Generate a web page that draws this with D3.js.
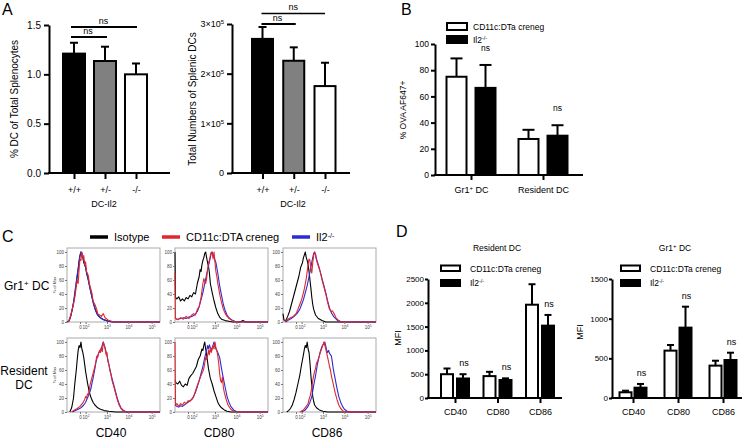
<!DOCTYPE html>
<html><head><meta charset="utf-8">
<script src="https://cdn.jsdelivr.net/npm/d3@7"></script>
<style>
body{margin:0;background:#fff}
svg{display:block;font-family:"Liberation Sans",Arial,Helvetica,sans-serif}
</style>
</head><body>
<svg id="c" width="742" height="439"></svg>
<script>
// ---------------- DATA ----------------
// Panel A
const aCategories = ["+/+", "+/-", "-/-"];
const aFills = ["#000000", "#808080", "#ffffff"];
const aPctMean = [1.21, 1.135, 1.0];
const aPctErr = [0.11, 0.145, 0.11];
const aCountMean = [270000, 226000, 175000];
const aCountErr = [24000, 27000, 47000];
const aPctTicks = [0, 0.5, 1.0, 1.5];
const aCountTicks = [0, 100000, 200000, 300000];
// Panel B
const bGroups = ["Gr1+ DC", "Resident DC"];
const bCre = [75, 27.5];
const bCreErr = [14, 7];
const bIl2 = [66.5, 30];
const bIl2Err = [17.5, 8];
const bTicks = [0, 20, 40, 60, 80, 100];
// Panel D
const dMarkers = ["CD40", "CD80", "CD86"];
const dResCre = [500, 460, 1960];
const dResCreErr = [120, 90, 430];
const dResIl2 = [410, 378, 1520];
const dResIl2Err = [90, 35, 225];
const dResTicks = [0, 500, 1000, 1500, 2000, 2500];
const dGrCre = [72, 597, 408];
const dGrCreErr = [20, 71, 62];
const dGrIl2 = [130, 887, 479];
const dGrIl2Err = [47, 264, 92];
const dGrTicks = [0, 500, 1000, 1500];
// Panel C histograms: [channel (display units 0-100), % of max]
const histXTickPos = [14, 20, 43, 66, 91];
const histXTickLab = ["0", "2", "3", "4", "5"];
const histYTicks = [0, 20, 40, 60, 80, 100];
const gr1CD40Iso = [[0,0],[2,1],[4,8],[6,20],[8,35],[10,55],[12,75],[13,88],[14,95],[15,100],[16,97],[17,92],[18,85],[20,78],[21,70],[23,60],[25,47],[27,35],[29,24],[31,16],[33,10],[36,6],[40,3],[45,1],[50,0],[100,0]];
const gr1CD40Cre = [[1,0],[3,5],[5,15],[7,25],[9,40],[10,52],[11,60],[12,55],[13,75],[14,90],[15,88],[16,100],[17,92],[18,95],[19,82],[20,86],[21,72],[23,66],[24,55],[26,45],[27,40],[28,30],[30,25],[32,18],[33,12],[35,10],[37,8],[39,12],[41,6],[44,3],[48,1],[52,0],[100,0]];
const gr1CD40Il2 = [[1,0],[3,4],[5,14],[7,28],[9,48],[11,68],[13,85],[14,95],[15,100],[16,98],[18,88],[20,78],[22,66],[24,52],[26,40],[28,28],[30,19],[32,12],[35,7],[38,4],[42,2],[48,0],[100,0]];
const gr1CD80Iso = [[0,100],[0.5,35],[2,33],[4,36],[6,30],[8,33],[10,30],[12,35],[14,33],[16,38],[18,36],[20,42],[22,40],[24,55],[26,65],[27,75],[28,72],[29,82],[30,88],[31,92],[32,98],[33,100],[34,92],[35,85],[36,80],[37,70],[38,55],[40,42],[42,30],[44,20],[46,12],[48,7],[50,4],[54,2],[58,1],[62,0],[70,0],[73,2],[76,0],[100,0]];
const gr1CD80Cre = [[0,70],[0.5,5],[3,3],[6,6],[9,4],[12,8],[15,5],[18,10],[20,12],[22,10],[24,18],[26,22],[28,35],[29,45],[30,55],[31,62],[32,58],[33,55],[34,62],[35,75],[36,85],[37,88],[38,95],[39,100],[40,98],[41,90],[42,100],[43,85],[44,72],[45,65],[46,55],[47,48],[48,40],[50,28],[52,18],[54,12],[56,8],[58,5],[62,2],[66,0],[100,0]];
const gr1CD80Il2 = [[0,5],[3,4],[6,5],[9,6],[12,5],[15,7],[18,8],[21,10],[24,15],[26,22],[28,32],[30,42],[32,55],[34,68],[36,80],[38,92],[39,98],[40,100],[41,95],[42,92],[44,85],[46,70],[48,52],[50,38],[52,25],[54,16],[56,10],[58,6],[62,2],[66,0],[100,0]];
const gr1CD86Iso = [[0,12],[1,3],[3,2],[5,8],[7,15],[9,25],[11,35],[13,45],[15,55],[17,65],[19,78],[21,85],[22,92],[23,96],[24,100],[25,92],[26,88],[27,82],[28,72],[29,60],[30,48],[31,35],[32,25],[33,18],[35,10],[38,5],[42,2],[46,0],[100,0]];
const gr1CD86Cre = [[2,0],[5,4],[8,6],[11,8],[14,12],[16,18],[18,25],[20,32],[22,42],[23,48],[24,55],[25,62],[26,72],[27,82],[28,90],[29,88],[30,75],[31,70],[32,85],[33,95],[34,100],[35,96],[36,88],[38,80],[40,72],[42,60],[44,50],[46,40],[48,28],[50,18],[52,15],[53,16],[55,12],[57,6],[60,2],[63,0],[100,0]];
const gr1CD86Il2 = [[3,0],[6,3],[9,5],[12,8],[15,12],[18,18],[20,25],[22,32],[24,42],[26,52],[28,65],[30,78],[31,86],[32,92],[33,98],[34,100],[35,97],[36,90],[38,82],[40,72],[42,62],[44,52],[46,42],[48,30],[50,20],[52,13],[55,7],[58,3],[62,0],[100,0]];
const resCD40Iso = [[3,0],[5,6],[7,20],[8,35],[9,48],[10,60],[11,75],[12,88],[13,95],[14,92],[15,100],[16,90],[17,85],[18,78],[19,68],[20,58],[21,50],[22,42],[23,35],[24,28],[26,20],[28,14],[30,10],[33,6],[36,4],[40,2],[45,1],[52,0],[100,0]];
const resCD40Cre = [[5,0],[8,3],[11,5],[14,8],[17,13],[19,18],[20,22],[21,20],[22,26],[23,24],[24,32],[25,40],[26,45],[27,50],[28,55],[29,60],[30,65],[31,72],[32,80],[33,78],[34,84],[35,88],[36,85],[37,92],[38,86],[39,100],[40,95],[41,90],[42,82],[43,85],[44,72],[45,68],[46,60],[47,55],[48,48],[49,42],[50,38],[52,28],[54,18],[56,10],[58,5],[61,1],[64,0],[100,0]];
const resCD40Il2 = [[6,0],[9,2],[12,4],[15,6],[18,10],[20,14],[22,20],[24,26],[26,35],[27,42],[28,48],[29,55],[30,62],[31,70],[32,76],[33,80],[34,84],[35,86],[36,88],[37,92],[38,96],[39,100],[40,96],[41,92],[42,86],[43,80],[44,74],[45,68],[46,62],[47,56],[48,50],[50,40],[52,30],[54,20],[56,12],[58,6],[61,2],[64,0],[100,0]];
const resCD80Iso = [[0,45],[1,42],[3,40],[5,44],[7,38],[9,36],[11,40],[13,38],[15,48],[17,52],[19,55],[21,60],[23,65],[25,75],[27,80],[28,85],[29,90],[30,88],[31,95],[32,100],[33,90],[34,82],[35,72],[36,62],[37,55],[38,48],[40,40],[42,30],[44,22],[46,14],[48,9],[50,6],[53,3],[56,1],[60,0],[100,0]];
const resCD80Cre = [[0,100],[0.6,10],[2,12],[4,8],[6,12],[8,10],[10,14],[12,12],[14,16],[16,15],[18,18],[20,22],[22,30],[24,38],[26,45],[28,52],[30,58],[31,62],[32,70],[33,78],[34,75],[35,80],[36,88],[37,82],[38,92],[39,85],[40,90],[41,95],[42,90],[43,100],[44,92],[45,88],[46,80],[47,70],[48,55],[49,45],[50,42],[51,50],[52,35],[53,28],[55,18],[57,10],[60,4],[63,1],[66,0],[100,0]];
const resCD80Il2 = [[0,10],[2,8],[4,7],[6,9],[8,8],[10,10],[12,12],[14,14],[16,16],[18,18],[20,22],[22,28],[24,36],[26,45],[28,55],[30,65],[32,78],[34,88],[35,95],[36,90],[37,96],[38,92],[39,88],[40,92],[41,96],[42,100],[43,95],[44,90],[46,85],[48,78],[50,62],[52,48],[54,35],[56,22],[58,14],[60,8],[63,3],[67,0],[100,0]];
const resCD86Iso = [[4,0],[6,2],[8,5],[10,10],[12,18],[14,28],[16,40],[18,52],[19,60],[20,68],[21,75],[22,82],[23,90],[24,95],[25,92],[26,100],[27,90],[28,85],[29,70],[30,52],[31,38],[32,22],[33,15],[34,10],[36,6],[39,3],[43,1],[48,0],[100,0]];
const resCD86Cre = [[18,0],[22,3],[25,8],[27,12],[28,18],[29,22],[30,28],[31,35],[32,45],[33,52],[34,58],[35,62],[36,70],[37,72],[38,76],[39,80],[40,85],[41,88],[42,92],[43,96],[44,100],[45,95],[46,90],[47,84],[48,78],[49,72],[50,65],[51,60],[52,52],[54,40],[56,28],[58,18],[60,10],[62,5],[65,1],[68,0],[100,0]];
const resCD86Il2 = [[20,0],[24,3],[27,8],[29,14],[30,18],[31,22],[32,30],[33,38],[34,45],[35,52],[36,60],[37,68],[38,74],[39,80],[40,86],[41,90],[42,94],[43,96],[44,98],[45,100],[46,94],[47,88],[48,85],[49,88],[50,84],[51,82],[52,80],[53,72],[54,62],[56,48],[58,34],[60,22],[62,14],[64,8],[66,4],[69,1],[72,0],[100,0]];

// ---------------- DRAW ----------------
const svg = d3.select("#c");
const RED = "#e3262b", BLUE = "#2b2bd6";

function panelLetter(t, x, y) {
  svg.append("text").attr("x", x).attr("y", y).attr("font-size", 16).text(t);
}

function styleAxis(g, fs, sw) {
  g.selectAll("text").attr("font-size", fs).attr("fill", "#000");
  g.selectAll("line").attr("stroke", "#000").attr("stroke-width", sw);
  g.select(".domain").attr("stroke", "#000").attr("stroke-width", sw);
}

function drawBars(g, y, items, sw, capW) {
  items.forEach(it => {
    g.append("rect").attr("x", it.cx - it.w / 2).attr("y", y(it.v))
      .attr("width", it.w).attr("height", y(0) - y(it.v))
      .attr("fill", it.fill).attr("stroke", "#000").attr("stroke-width", sw);
    g.append("line").attr("x1", it.cx).attr("x2", it.cx)
      .attr("y1", y(it.v)).attr("y2", y(it.v + it.e))
      .attr("stroke", "#000").attr("stroke-width", sw);
    g.append("line").attr("x1", it.cx - capW / 2).attr("x2", it.cx + capW / 2)
      .attr("y1", y(it.v + it.e)).attr("y2", y(it.v + it.e))
      .attr("stroke", "#000").attr("stroke-width", sw);
  });
}

function xAxisLine(g, x1, x2, yv, sw) {
  g.append("line").attr("x1", x1).attr("x2", x2).attr("y1", yv).attr("y2", yv)
    .attr("stroke", "#000").attr("stroke-width", sw);
}

function ns(g, x, y, fs) {
  g.append("text").attr("x", x).attr("y", y).attr("text-anchor", "middle")
    .attr("font-size", fs).text("ns");
}

function supLabel(sel, base, sup, fs) {
  sel.text(null);
  sel.append("tspan").text(base);
  sel.append("tspan").attr("baseline-shift", "super").attr("font-size", fs).text(sup);
}

// ===== Panel A =====
panelLetter("A", 2, 15);
{
  const g = svg.append("g");
  const x = d3.scalePoint().domain(aCategories).range([74, 136]);
  const y = d3.scaleLinear().domain([0, 1.5]).range([173, 25]);
  const ya = g.append("g").attr("transform", "translate(49,0)")
    .call(d3.axisLeft(y).tickValues(aPctTicks).tickFormat(d3.format(".1f")).tickSize(5).tickSizeOuter(0).tickPadding(3));
  styleAxis(ya, 10, 2);
  drawBars(g, y, aCategories.map((c, i) => ({cx: x(c), w: 22, v: aPctMean[i], e: aPctErr[i], fill: aFills[i]})), 2, 8);
  xAxisLine(g, 48, 170, y(0), 2);
  const xa = g.append("g").attr("transform", `translate(0,${y(0)})`)
    .call(d3.axisBottom(x).tickSize(6).tickSizeOuter(0).tickPadding(8));
  xa.select(".domain").remove();
  styleAxis(xa, 9, 2);
  g.append("text").attr("x", 104).attr("y", 207).attr("text-anchor", "middle").attr("font-size", 9).text("DC-Il2");
  g.append("text").attr("transform", "translate(18,99) rotate(-90)").attr("text-anchor", "middle")
    .attr("font-size", 10).text("% DC of Total Splenocytes");
  const xs = x(aCategories[0]) - 3;
  g.append("line").attr("x1", xs).attr("x2", x(aCategories[2]) + 1).attr("y1", 27).attr("y2", 27).attr("stroke", "#000").attr("stroke-width", 2);
  ns(g, (xs + x(aCategories[2])) / 2, 24, 9);
  g.append("line").attr("x1", xs).attr("x2", x(aCategories[1]) + 2).attr("y1", 37).attr("y2", 37).attr("stroke", "#000").attr("stroke-width", 2);
  ns(g, (xs + x(aCategories[1])) / 2, 34, 9);
}
{
  const g = svg.append("g");
  const x = d3.scalePoint().domain(aCategories).range([262.5, 325]);
  const y = d3.scaleLinear().domain([0, 300000]).range([173, 24]);
  const ya = g.append("g").attr("transform", "translate(232,0)")
    .call(d3.axisLeft(y).tickValues(aCountTicks).tickSize(5).tickSizeOuter(0).tickPadding(3));
  styleAxis(ya, 9, 2);
  ya.selectAll(".tick text").each(function (d) {
    const t = d3.select(this);
    if (d === 0) t.text("0"); else supLabel(t, (d / 1e5) + "×10", "5", 6);
  });
  drawBars(g, y, aCategories.map((c, i) => ({cx: x(c), w: 21, v: aCountMean[i], e: aCountErr[i], fill: aFills[i]})), 2, 8);
  xAxisLine(g, 231, 350, y(0), 2);
  const xa = g.append("g").attr("transform", `translate(0,${y(0)})`)
    .call(d3.axisBottom(x).tickSize(6).tickSizeOuter(0).tickPadding(8));
  xa.select(".domain").remove();
  styleAxis(xa, 9, 2);
  g.append("text").attr("x", 293).attr("y", 207).attr("text-anchor", "middle").attr("font-size", 9).text("DC-Il2");
  g.append("text").attr("transform", "translate(196,99) rotate(-90)").attr("text-anchor", "middle")
    .attr("font-size", 10).text("Total Numbers of Splenic DCs");
  const xs = x(aCategories[0]) - 1;
  g.append("line").attr("x1", xs).attr("x2", x(aCategories[2])).attr("y1", 13.5).attr("y2", 13.5).attr("stroke", "#000").attr("stroke-width", 1.5);
  ns(g, (xs + x(aCategories[2])) / 2, 10, 9);
  g.append("line").attr("x1", xs).attr("x2", x(aCategories[1]) + 2).attr("y1", 24).attr("y2", 24).attr("stroke", "#000").attr("stroke-width", 2);
  ns(g, (xs + x(aCategories[1])) / 2, 21, 9);
}

// ===== Panel B =====
panelLetter("B", 401, 15);
{
  const g = svg.append("g");
  const x = d3.scalePoint().domain(bGroups).range([471, 543]);
  const y = d3.scaleLinear().domain([0, 100]).range([175, 44]);
  const ya = g.append("g").attr("transform", "translate(435,0)")
    .call(d3.axisLeft(y).tickValues(bTicks).tickSize(4).tickSizeOuter(0).tickPadding(2));
  styleAxis(ya, 8.5, 2);
  const items = [];
  bGroups.forEach((c, i) => {
    items.push({cx: x(c) - 14.5, w: 20, v: bCre[i], e: bCreErr[i], fill: "#fff"});
    items.push({cx: x(c) + 14.5, w: 20, v: bIl2[i], e: bIl2Err[i], fill: "#000"});
  });
  drawBars(g, y, items, 2, 12);
  xAxisLine(g, 434, 583, y(0), 2);
  const xa = g.append("g").attr("transform", `translate(0,${y(0)})`)
    .call(d3.axisBottom(x).tickSize(5).tickSizeOuter(0).tickPadding(7));
  xa.select(".domain").remove();
  styleAxis(xa, 9, 2);
  xa.selectAll(".tick text").each(function (d) {
    const t = d3.select(this);
    if (d.startsWith("Gr1+")) { t.text(null); t.append("tspan").text("Gr1"); t.append("tspan").attr("baseline-shift", "super").attr("font-size", 6).text("+"); t.append("tspan").text(" DC"); }
  });
  g.append("text").attr("transform", "translate(406,110) rotate(-90)").attr("text-anchor", "middle")
    .attr("font-size", 8.5).text("% OVA AF647+");
  bGroups.forEach((c, i) => ns(g, x(c) + 14.5, y(bIl2[i] + bIl2Err[i]) - 14, 8.5));
  g.append("rect").attr("x", 447).attr("y", 23).attr("width", 20).attr("height", 7).attr("fill", "#fff").attr("stroke", "#000").attr("stroke-width", 2);
  g.append("rect").attr("x", 446).attr("y", 35).attr("width", 22).attr("height", 9).attr("fill", "#000");
  g.append("text").attr("x", 473).attr("y", 30).attr("font-size", 8.5).text("CD11c:DTa creneg");
  supLabel(g.append("text").attr("x", 473).attr("y", 43).attr("font-size", 8.5), "Il2", "-/-", 5.5);
}

// ===== Panel C =====
panelLetter("C", 2, 242);
{
  const g = svg.append("g");
  const leg = [["Isotype", "#000", 90], ["CD11c:DTA creneg", RED, 162], ["Il2", BLUE, 292]];
  leg.forEach(([lab, col, lx], i) => {
    g.append("line").attr("x1", lx).attr("x2", lx + 18).attr("y1", 237).attr("y2", 237).attr("stroke", col).attr("stroke-width", 3.5);
    const t = g.append("text").attr("x", lx + 24).attr("y", 241).attr("font-size", 11);
    if (i === 2) supLabel(t, lab, "-/-", 7); else t.text(lab);
  });
  const rl = g.append("text").attr("x", 4).attr("y", 290).attr("font-size", 12);
  supLabel(rl, "Gr1", "+", 8);
  rl.append("tspan").text(" DC");
  g.append("text").attr("x", 24).attr("y", 375).attr("text-anchor", "middle").attr("font-size", 12).text("Resident");
  g.append("text").attr("x", 24).attr("y", 389).attr("text-anchor", "middle").attr("font-size", 12).text("DC");

  const colX = [67, 175, 283];
  const rowY = [248, 338];
  const boxW = 93, boxH = 74;
  const hists = [
    [gr1CD40Iso, gr1CD40Il2, gr1CD40Cre], [gr1CD80Iso, gr1CD80Il2, gr1CD80Cre], [gr1CD86Iso, gr1CD86Il2, gr1CD86Cre],
    [resCD40Iso, resCD40Il2, resCD40Cre], [resCD80Iso, resCD80Il2, resCD80Cre], [resCD86Iso, resCD86Il2, resCD86Cre]
  ];
  const cols = ["#000", BLUE, RED];
  const hx = d3.scaleLinear().domain([0, 100]).range([0, boxW]);
  const hy = d3.scaleLinear().domain([0, 100]).range([boxH, 4]);
  const line = d3.line().x(d => hx(d[0])).y(d => hy(d[1]));
  hists.forEach((set, k) => {
    const r = Math.floor(k / 3), c = k % 3;
    const bg = g.append("g").attr("transform", `translate(${colX[c]},${rowY[r]})`);
    bg.append("rect").attr("width", boxW).attr("height", boxH).attr("fill", "none").attr("stroke", "#aaa").attr("stroke-width", 1);
    set.forEach((pts, j) => {
      bg.append("path").attr("d", line(pts)).attr("fill", "none").attr("stroke", cols[j]).attr("stroke-width", 1.1).attr("stroke-linejoin", "round");
    });
    const ya = bg.append("g").call(d3.axisLeft(hy).tickValues(histYTicks).tickSize(2).tickPadding(1));
    ya.select(".domain").remove();
    ya.selectAll("text").attr("font-size", 4.5).attr("fill", "#444");
    ya.selectAll("line").attr("stroke", "#777");
    const xa = bg.append("g").attr("transform", `translate(0,${boxH})`)
      .call(d3.axisBottom(hx).tickValues(histXTickPos).tickSize(2).tickPadding(2));
    xa.select(".domain").remove();
    xa.selectAll("line").attr("stroke", "#777");
    xa.selectAll("text").attr("font-size", 4.5).attr("fill", "#444").each(function (d, i) {
      const t = d3.select(this);
      if (i === 0) t.text("0"); else supLabel(t, "10", histXTickLab[i], 3.5);
    });
    if (c === 0) {
      bg.append("text").attr("transform", `translate(-11,${boxH / 2}) rotate(-90)`).attr("text-anchor", "middle")
        .attr("font-size", 4).attr("fill", "#444").text("% of Max");
    }
  });
  dMarkers.forEach((m, i) => {
    g.append("text").attr("x", colX[i] + 44).attr("y", 437).attr("text-anchor", "middle").attr("font-size", 12).text(m);
  });
}

// ===== Panel D =====
panelLetter("D", 396, 237);
function panelD(cfg) {
  const g = svg.append("g");
  const x = d3.scalePoint().domain(dMarkers).range(cfg.xr);
  const y = d3.scaleLinear().domain([0, cfg.ticks[cfg.ticks.length - 1]]).range([398, 279]);
  const ya = g.append("g").attr("transform", `translate(${cfg.ax},0)`)
    .call(d3.axisLeft(y).tickValues(cfg.ticks).tickFormat(d3.format("d")).tickSize(3).tickSizeOuter(0).tickPadding(1));
  styleAxis(ya, 8, 2);
  const items = [];
  dMarkers.forEach((m, i) => {
    items.push({cx: x(m) - cfg.off, w: cfg.bw, v: cfg.cre[i], e: cfg.creErr[i], fill: "#fff"});
    items.push({cx: x(m) + cfg.off, w: cfg.bw, v: cfg.il2[i], e: cfg.il2Err[i], fill: "#000"});
  });
  drawBars(g, y, items, 2, 7);
  xAxisLine(g, cfg.ax - 1, cfg.axEnd, y(0), 2);
  const xa = g.append("g").attr("transform", `translate(0,${y(0)})`)
    .call(d3.axisBottom(x).tickSize(5).tickSizeOuter(0).tickPadding(6));
  xa.select(".domain").remove();
  styleAxis(xa, 9, 2);
  g.append("text").attr("transform", `translate(${cfg.mfiX},${cfg.mfiY}) rotate(-90)`).attr("text-anchor", "middle")
    .attr("font-size", 9).text("MFI");
  dMarkers.forEach((m, i) => ns(g, x(m) + cfg.off + 1, y(cfg.il2[i] + cfg.il2Err[i]) - 8, 9));
  const tt = g.append("text").attr("x", cfg.titleX).attr("y", 251).attr("text-anchor", "middle").attr("font-size", 8.5);
  if (cfg.title === "Gr1+ DC") { tt.append("tspan").text("Gr1"); tt.append("tspan").attr("baseline-shift", "super").attr("font-size", 6).text("+"); tt.append("tspan").text(" DC"); }
  else tt.text(cfg.title);
  g.append("rect").attr("x", cfg.legX).attr("y", 265.5).attr("width", 19).attr("height", 5.5).attr("fill", "#fff").attr("stroke", "#000").attr("stroke-width", 2);
  g.append("rect").attr("x", cfg.legX - 1).attr("y", 279).attr("width", 21).attr("height", 8).attr("fill", "#000");
  g.append("text").attr("x", cfg.legX + 29).attr("y", 272).attr("font-size", 8.5).text("CD11c:DTa creneg");
  supLabel(g.append("text").attr("x", cfg.legX + 29).attr("y", 286).attr("font-size", 8.5), "Il2", "-/-", 5.5);
}
panelD({xr: [455, 540], off: 8, bw: 12, ax: 428, axEnd: 562, ticks: dResTicks,
  cre: dResCre, creErr: dResCreErr, il2: dResIl2, il2Err: dResIl2Err,
  mfiX: 401, mfiY: 338, title: "Resident DC", titleX: 497, legX: 441});
panelD({xr: [633, 723], off: 7.5, bw: 12, ax: 612, axEnd: 742, ticks: dGrTicks,
  cre: dGrCre, creErr: dGrCreErr, il2: dGrIl2, il2Err: dGrIl2Err,
  mfiX: 583, mfiY: 332, title: "Gr1+ DC", titleX: 675, legX: 621});
</script>
</body></html>
